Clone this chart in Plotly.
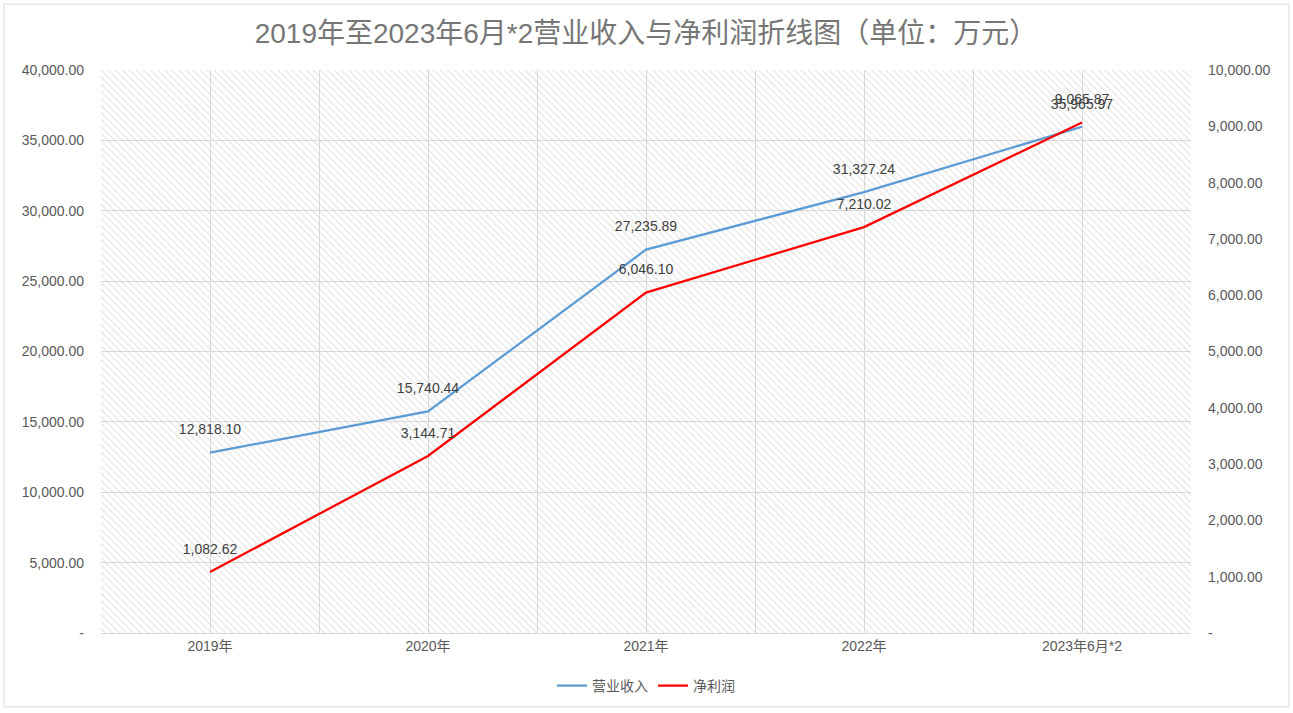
import plotly.graph_objects as go

categories = ["2019年", "2020年", "2021年", "2022年", "2023年6月*2"]
revenue = [12818.10, 15740.44, 27235.89, 31327.24, 35965.97]
net_profit = [1082.62, 3144.71, 6046.10, 7210.02, 9065.87]
left_ticks = [0, 5000, 10000, 15000, 20000, 25000, 30000, 35000, 40000]
right_ticks = [0, 1000, 2000, 3000, 4000, 5000, 6000, 7000, 8000, 9000, 10000]

def fmt(v):
    return "-" if v == 0 else f"{v:,.2f}"

FONT = "Liberation Sans, Arial, Noto Sans CJK SC, sans-serif"
GRID = "#d9d9d9"
TXT = "#595959"

fig = go.Figure()

# hatched plot-area background on the hidden base subplot
fig.add_trace(go.Scatter(
    x=[0, 1, 1, 0, 0], y=[0, 0, 1, 1, 0], xaxis="x", yaxis="y",
    mode="lines", line=dict(width=0), fill="toself",
    fillcolor="rgba(0,0,0,0)",
    fillpattern=dict(shape="\\", fgcolor="#cdcdcd", size=5, solidity=0.27),
    hoverinfo="skip", showlegend=False,
))

marker_pad = dict(size=22, color="rgba(0,0,0,0)")

fig.add_trace(go.Scatter(
    x=categories, y=revenue, xaxis="x2", yaxis="y2", name="营业收入",
    mode="lines+markers+text", line=dict(color="#5B9BD5", width=2.25),
    marker=marker_pad,
    text=[fmt(v) for v in revenue], textposition="top center",
    textfont=dict(size=14, color="#404040", family=FONT),
    cliponaxis=False,
))
fig.add_trace(go.Scatter(
    x=categories, y=net_profit, xaxis="x2", yaxis="y3", name="净利润",
    mode="lines+markers+text", line=dict(color="#FF0000", width=2.25),
    marker=marker_pad,
    text=[fmt(v) for v in net_profit], textposition="top center",
    textfont=dict(size=14, color="#404040", family=FONT),
    cliponaxis=False,
))

fig.update_layout(
    width=1293, height=713,
    margin=dict(l=101, r=102, t=70, b=79),
    paper_bgcolor="white", plot_bgcolor="white",
    font=dict(family=FONT, color=TXT, size=14),
    title=dict(
        text="2019年至2023年6月*2营业收入与净利润折线图（单位：万元）",
        x=0.5, xref="paper", y=1 - 33 / 713, yanchor="middle",
        font=dict(size=28, color="#767676", family=FONT),
    ),
    xaxis=dict(range=[0, 1], visible=True, showticklabels=False, ticks="",
               tickvals=[0, 0.2, 0.4, 0.6, 0.8, 1.0], showgrid=True,
               gridcolor=GRID, gridwidth=1, zeroline=False, showline=False,
               fixedrange=True),
    yaxis=dict(range=[0, 1], visible=False, fixedrange=True),
    xaxis2=dict(
        type="category", overlaying="x", anchor="y2", side="bottom",
        range=[-0.5, 4.5], showgrid=True,
        gridcolor=GRID, gridwidth=1, ticks="", showline=True,
        linecolor=GRID, tickfont=dict(size=14, color=TXT),
    ),
    yaxis2=dict(
        overlaying="y", side="left", anchor="x2",
        range=[0, 40000], tickvals=left_ticks,
        ticktext=[fmt(v) for v in left_ticks],
        showgrid=True, gridcolor=GRID, gridwidth=1, zeroline=False,
        ticks="", showline=False, tickfont=dict(size=14, color=TXT),
        ticklabelstandoff=16,
    ),
    yaxis3=dict(
        overlaying="y", side="right", anchor="x2",
        range=[0, 10000], tickvals=right_ticks,
        ticktext=[fmt(v) for v in right_ticks],
        showgrid=False, zeroline=False, ticks="", showline=False,
        tickfont=dict(size=14, color=TXT), ticklabelstandoff=16,
    ),
    legend=dict(
        orientation="h", x=0.5, xanchor="center", y=-52 / 564,
        yanchor="middle", font=dict(size=14, color=TXT),
        bgcolor="rgba(0,0,0,0)",
    ),
    shapes=[dict(
        type="rect", xref="paper", yref="paper",
        x0=(4 - 101) / 1090, x1=(1289 - 101) / 1090,
        y0=(634 - 708) / 564, y1=(634 - 4) / 564,
        line=dict(color="#d9d9d9", width=1), fillcolor="rgba(0,0,0,0)",
        layer="below",
    )],
)

fig.write_html("out.html", config={"displayModeBar": False},
               post_script="document.body.style.margin='0';document.body.style.overflow='hidden';")
